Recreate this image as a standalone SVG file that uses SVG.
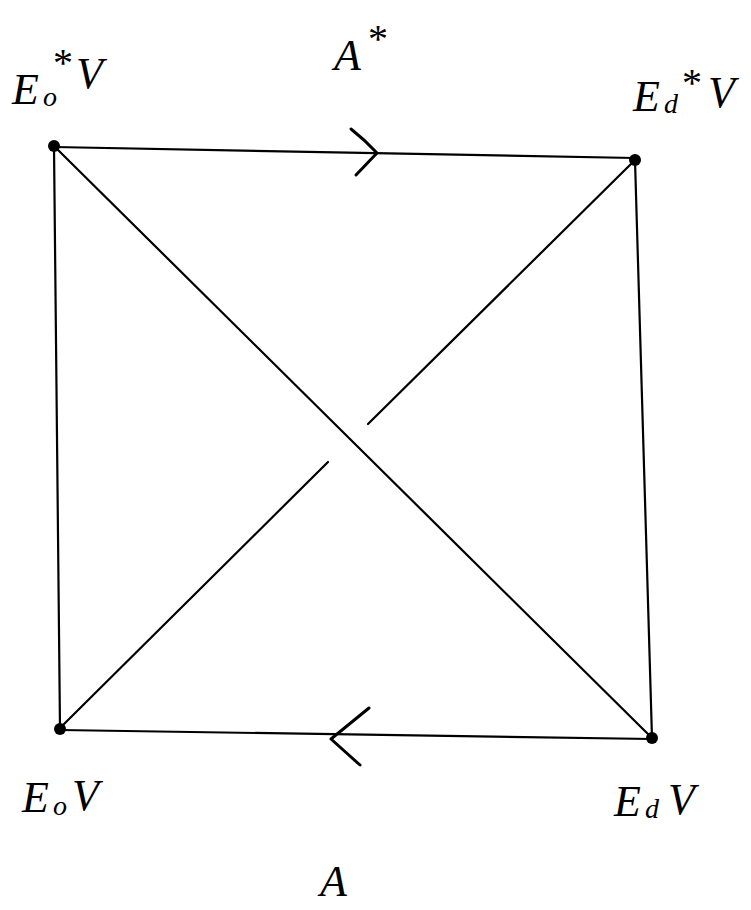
<svg xmlns="http://www.w3.org/2000/svg" width="751" height="910" viewBox="0 0 751 910">
<style>
.e{stroke:#000;stroke-width:2.2;fill:none;stroke-linecap:round;stroke-linejoin:round}
.a{stroke:#000;stroke-width:3;fill:none;stroke-linecap:round;stroke-linejoin:round}
.dot{fill:#000}
.t{font-family:"Liberation Serif",serif;font-style:italic;font-size:44px;fill:#000}
.s{font-size:28px}
.st{font-size:40px;font-style:normal}
</style>
<rect width="751" height="910" fill="#fff"/>
<g id="connectors">
<path class="e" d="M54 147 L635 158"/>
<path class="a" d="M351 129 Q365 140 377 153 L356 175"/>
<path class="e" d="M60 730 L652 739"/>
<path class="a" d="M369 708 L331 739 L360 765"/>
<path class="e" d="M54 147 L60 728"/>
<path class="e" d="M635 160 L652 738"/>
<path class="e" d="M54 146 L652 738"/>
<path class="e" d="M60 728 L328 462"/>
<path class="e" d="M368 424 L635 160"/>
</g>
<g id="n-E0starV">
<circle class="dot" cx="54" cy="146" r="6"/>
<text class="t" x="12" y="104">E<tspan class="s" x="43" y="106">o</tspan><tspan class="st" x="53" y="76">*</tspan><tspan x="76" y="88">V</tspan></text>
</g>
<g id="n-EdstarV">
<circle class="dot" cx="635" cy="160" r="6"/>
<text class="t" x="633" y="111">E<tspan class="s" x="664" y="113">d</tspan><tspan class="st" x="682" y="96">*</tspan><tspan x="708" y="107">V</tspan></text>
</g>
<g id="n-E0V">
<circle class="dot" cx="60" cy="729" r="6"/>
<text class="t" x="22" y="812">E<tspan class="s" x="53" y="815">o</tspan><tspan x="72" y="810">V</tspan></text>
</g>
<g id="n-EdV">
<circle class="dot" cx="652" cy="738" r="6"/>
<text class="t" x="614" y="816">E<tspan class="s" x="645" y="818">d</tspan><tspan x="668" y="814">V</tspan></text>
</g>
<g id="label-Astar">
<text class="t" x="334" y="70">A<tspan class="st" x="368" y="52">*</tspan></text>
</g>
<g id="label-A">
<text class="t" x="320" y="896">A</text>
</g>
</svg>
